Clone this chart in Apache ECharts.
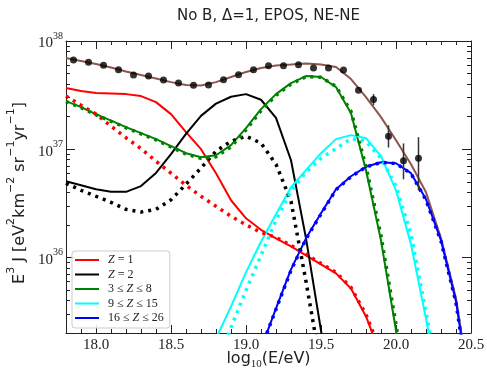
<!DOCTYPE html>
<html>
<head>
<meta charset="utf-8">
<script src="https://cdn.jsdelivr.net/npm/echarts@6/dist/echarts.min.js"></script>
<style>
    html, body { margin: 0; padding: 0; background: #fff; }
    #chart { width: 487px; height: 372px; }
</style>
</head>
<body>
<div id="chart"></div>
<script>
    // model grid, log10(E/eV)
    const lgE = [17.8, 17.9, 18.0, 18.1, 18.2, 18.3, 18.4, 18.5, 18.6, 18.7, 18.8, 18.9, 19.0, 19.1,
        19.2, 19.3, 19.4, 19.5, 19.6, 19.7, 19.8, 19.9, 20.0, 20.1, 20.2, 20.3, 20.4, 20.5];

    // model curves, log10(E^3 J)
    const logTotal = [37.843, 37.815, 37.787, 37.755, 37.718, 37.685, 37.653, 37.620, 37.593, 37.588,
        37.620, 37.667, 37.713, 37.750, 37.773, 37.782, 37.792, 37.782, 37.759, 37.648, 37.481, 37.296,
        37.083, 36.861, 36.602, 36.176, 35.620, 34.722];
    const logZ1 = [37.565, 37.537, 37.519, 37.514, 37.509, 37.491, 37.435, 37.324, 37.157, 37.000,
        36.778, 36.528, 36.361, 36.255, 36.176, 36.102, 36.019, 35.935, 35.852, 35.713, 35.454, 35.093,
        34.583, null, null, null, null, null];
    const logZ1dot = [37.491, 37.407, 37.324, 37.213, 37.106, 37.005, 36.889, 36.778, 36.667, 36.565,
        36.472, 36.380, 36.301, 36.231, 36.185, 36.111, 36.028, 35.944, 35.861, 35.722, 35.472, 35.120,
        34.630, null, null, null, null, null];
    const logZ2 = [36.704, 36.667, 36.630, 36.606, 36.606, 36.659, 36.781, 36.954, 37.142, 37.308,
        37.421, 37.485, 37.509, 37.457, 37.289, 36.898, 36.176, 35.324, 34.398, null, null, null,
        null, null, null, null, null, null];
    const logZ2dot = [36.685, 36.620, 36.565, 36.509, 36.444, 36.419, 36.444, 36.532, 36.676, 36.826,
        36.981, 37.074, 37.120, 37.056, 36.861, 36.519, 35.778, 34.981, 34.120, null, null, null,
        null, null, null, null, null, null];
    const logZ3to8 = [37.444, 37.389, 37.324, 37.264, 37.204, 37.148, 37.093, 37.028, 36.963, 36.926,
        36.944, 37.037, 37.194, 37.370, 37.509, 37.611, 37.676, 37.667, 37.574, 37.333, 36.806, 36.157,
        35.324, 34.398, null, null, null, null];
    const logZ3to8dot = [37.440, 37.384, 37.318, 37.258, 37.198, 37.142, 37.086, 37.020, 36.955, 36.915,
        36.930, 37.020, 37.178, 37.355, 37.497, 37.602, 37.670, 37.665, 37.580, 37.350, 36.840, 36.200,
        35.380, 34.460, null, null, null, null];
    const logZ9to15 = [null, null, null, null, null, null, null, null, null, 34.954,
        35.250, 35.546, 35.861, 36.144, 36.398, 36.648, 36.806, 36.963, 37.093, 37.130, 37.102, 36.935,
        36.620, 36.120, 35.435, 34.676, null, null];
    const logZ9to15dot = [null, null, null, null, null, null, null, null, null, 34.583,
        35.000, 35.352, 35.694, 36.019, 36.343, 36.611, 36.787, 36.917, 37.005, 37.097, 37.074, 36.917,
        36.657, 36.213, 35.491, 34.750, null, null];
    const logZ16to26 = [null, null, null, null, null, null, null, null, null, null,
        null, null, null, 35.157, 35.528, 35.889, 36.176, 36.407, 36.630, 36.750, 36.837, 36.880,
        36.870, 36.778, 36.537, 36.157, 35.593, 34.676];
    const logZ16to26dot = [null, null, null, null, null, null, null, null, null, null,
        null, null, null, 35.160, 35.520, 35.880, 36.170, 36.400, 36.625, 36.745, 36.835, 36.878,
        36.868, 36.775, 36.530, 36.150, 35.580, 34.660];

    // measured spectrum
    const dataLgE = [17.85, 17.95, 18.05, 18.15, 18.25, 18.35, 18.45, 18.55, 18.65, 18.75, 18.85, 18.95,
        19.05, 19.15, 19.25, 19.35, 19.45, 19.55, 19.65, 19.75, 19.85, 19.95, 20.05, 20.15];
    const dataLog = [37.824, 37.803, 37.775, 37.734, 37.685, 37.676, 37.639, 37.611, 37.590, 37.593,
        37.642, 37.688, 37.734, 37.771, 37.771, 37.781, 37.750, 37.750, 37.731, 37.544, 37.460, 37.120,
        36.892, 36.917];
    const errLoLog = [null, null, null, null, null, null, null, null, null, null, null, null,
        null, null, null, null, null, null, null, null, 37.407, 37.016, 36.722, 36.620];
    const errHiLog = [null, null, null, null, null, null, null, null, null, null, null, null,
        null, null, null, null, null, null, null, null, 37.509, 37.222, 37.053, 37.111];

    const xMajor = [18.0, 18.5, 19.0, 19.5, 20.0, 20.5];
    const yMajor = [1e36, 1e37, 1e38];

    const xMinor = [];
    for (let i = 179; i <= 204; i++) {
        if (i % 5 !== 0) xMinor.push(i / 10);
    }
    const yMinor = [];
    [1e35, 1e36, 1e37].forEach(function (d) {
        for (let m = 2; m <= 9; m++) yMinor.push(m * d);
    });

    const toPoints = function (logs, xs) {
        const out = [];
        logs.forEach(function (v, i) {
            if (v !== null) out.push([xs[i], Math.pow(10, v)]);
        });
        return out;
    };

    const chart = echarts.init(document.getElementById('chart'), null, {renderer: 'canvas'});

    const serif = 'Liberation Serif';
    const sans = 'DejaVu Sans';
    const ink = '#222';

    const xAxisBase = function (position, major, showLabel, name) {
        return {
            type: 'value',
            position: position,
            min: 17.8,
            max: 20.5,
            name: name || '',
            nameMoveOverlap: false,
            splitLine: {show: false},
            axisLine: {show: major, onZero: false, lineStyle: {color: ink, width: 1}},
            axisTick: {
                show: true, inside: true, length: major ? 8 : 4,
                customValues: major ? xMajor : xMinor,
                lineStyle: {color: ink, width: 1}
            },
            axisLabel: {
                show: showLabel, customValues: xMajor, margin: 5,
                fontFamily: serif, fontSize: 15, color: ink,
                formatter: function (v) { return v.toFixed(1); }
            }
        };
    };
    const yAxisBase = function (position, major, showLabel) {
        return {
            type: 'log',
            logBase: 10,
            position: position,
            min: 2e35,
            max: 1e38,
            nameMoveOverlap: false,
            splitLine: {show: false},
            axisLine: {show: major, lineStyle: {color: ink, width: 1}},
            axisTick: {
                show: true, inside: true, length: major ? 9 : 4,
                customValues: major ? yMajor : yMinor,
                lineStyle: {color: ink, width: 1}
            },
            axisLabel: {
                show: showLabel, customValues: yMajor, margin: 3,
                formatter: function (v) {
                    return '{b|10}{s|' + Math.round(Math.log10(v)) + '}';
                },
                rich: {
                    b: {fontFamily: serif, fontSize: 15, color: ink, lineHeight: 20, verticalAlign: 'bottom'},
                    s: {fontFamily: serif, fontSize: 10, color: ink, lineHeight: 20, verticalAlign: 'top'}
                }
            }
        };
    };

    const xAxes = [
        xAxisBase('bottom', true, true, '{m|log}{d|10}{m|(E/eV)}'),
        xAxisBase('bottom', false, false),
        xAxisBase('top', true, false, 'No B, \u0394=1, EPOS, NE-NE'),
        xAxisBase('top', false, false)
    ];
    xAxes[0].nameLocation = 'middle';
    xAxes[0].nameGap = 18;
    xAxes[0].nameTextStyle = {
        rich: {
            m: {fontFamily: sans, fontSize: 16, color: ink, lineHeight: 19, verticalAlign: 'top'},
            d: {fontFamily: serif, fontSize: 11, color: ink, lineHeight: 19, verticalAlign: 'bottom'}
        }
    };
    xAxes[2].nameLocation = 'middle';
    xAxes[2].nameGap = 17;
    xAxes[2].nameTextStyle = {fontFamily: sans, fontSize: 15, color: ink};

    const yAxes = [
        yAxisBase('left', true, true),
        yAxisBase('left', false, false),
        yAxisBase('right', true, false),
        yAxisBase('right', false, false)
    ];
    yAxes[0].name = '{m|E}{s|3}{m| J [eV}{s|2}{m|km}{s|\u22122}{m| sr}{s|\u22121}{m|yr}{s|\u22121}{m|]}';
    yAxes[0].nameLocation = 'middle';
    yAxes[0].nameRotate = 90;
    yAxes[0].nameGap = 38;
    yAxes[0].nameTextStyle = {
        padding: [0, 12, 0, 0],
        rich: {
            m: {fontFamily: sans, fontSize: 16, color: ink, lineHeight: 22, verticalAlign: 'bottom'},
            s: {fontFamily: sans, fontSize: 11, color: ink, lineHeight: 22, verticalAlign: 'top'}
        }
    };

    const solid = function (name, color, logs, width) {
        return {
            name: name, type: 'line', color: color,
            data: toPoints(logs, lgE),
            showSymbol: false, symbol: 'none', smooth: false,
            lineStyle: {color: color, width: width || 2},
            z: 3
        };
    };
    const dotted = function (name, color, logs) {
        return {
            name: name, type: 'line', color: color,
            data: toPoints(logs, lgE),
            showSymbol: false, symbol: 'none',
            lineStyle: {color: color, width: 3.5, type: [3, 5], cap: 'butt'},
            z: 4
        };
    };

    const errData = [];
    dataLgE.forEach(function (x, i) {
        if (errLoLog[i] !== null) errData.push([x, Math.pow(10, errLoLog[i]), Math.pow(10, errHiLog[i])]);
    });

    const option = {
        animation: false,
        backgroundColor: '#fff',
        grid: {left: 66, right: 16, top: 41, bottom: 39, containLabel: false, outerBoundsMode: 'none'},
        xAxis: xAxes,
        yAxis: yAxes,
        legend: {
            data: ['Z = 1', 'Z = 2', '3 \u2264 Z \u2264 8', '9 \u2264 Z \u2264 15', '16 \u2264 Z \u2264 26'],
            orient: 'vertical',
            left: 72,
            top: 251,
            icon: 'rect',
            itemWidth: 24,
            itemHeight: 2,
            itemGap: 2.5,
            padding: [3, 6, 4, 3],
            backgroundColor: 'rgba(255,255,255,0.85)',
            borderColor: '#ccc',
            borderWidth: 1,
            borderRadius: 3,
            selectedMode: false,
            formatter: function (name) { return name.replace('Z', '{i|Z}'); },
            textStyle: {
                fontFamily: serif, fontSize: 12, color: ink, lineHeight: 12,
                padding: [0, 0, 0, 4],
                rich: {i: {fontFamily: serif, fontSize: 12, fontStyle: 'italic', color: ink}}
            }
        },
        series: [
            solid('total', '#8c564b', logTotal, 2),
            solid('Z = 1', '#ff0000', logZ1),
            solid('Z = 2', '#000000', logZ2),
            solid('3 \u2264 Z \u2264 8', '#008000', logZ3to8),
            solid('9 \u2264 Z \u2264 15', '#00ffff', logZ9to15),
            solid('16 \u2264 Z \u2264 26', '#0000ff', logZ16to26),
            dotted('Z = 1 dotted', '#ff0000', logZ1dot),
            dotted('Z = 2 dotted', '#000000', logZ2dot),
            dotted('3-8 dotted', '#008000', logZ3to8dot),
            dotted('9-15 dotted', '#00ffff', logZ9to15dot),
            dotted('16-26 dotted', '#0000ff', logZ16to26dot),
            {
                name: 'error',
                type: 'custom',
                data: errData,
                encode: {x: 0, y: [1, 2]},
                renderItem: function (params, api) {
                    const p1 = api.coord([api.value(0), api.value(1)]);
                    const p2 = api.coord([api.value(0), api.value(2)]);
                    return {
                        type: 'line',
                        shape: {x1: p1[0], y1: p1[1], x2: p2[0], y2: p2[1]},
                        style: {stroke: '#333', lineWidth: 1.5}
                    };
                },
                z: 5
            },
            {
                name: 'data',
                type: 'scatter',
                data: toPoints(dataLog, dataLgE),
                symbol: 'circle',
                symbolSize: 7,
                itemStyle: {color: '#000'},
                z: 6
            }
        ]
    };

    chart.setOption(option);
    window.addEventListener('resize', () => {
        chart.resize()
    })
</script>
</body>
</html>
